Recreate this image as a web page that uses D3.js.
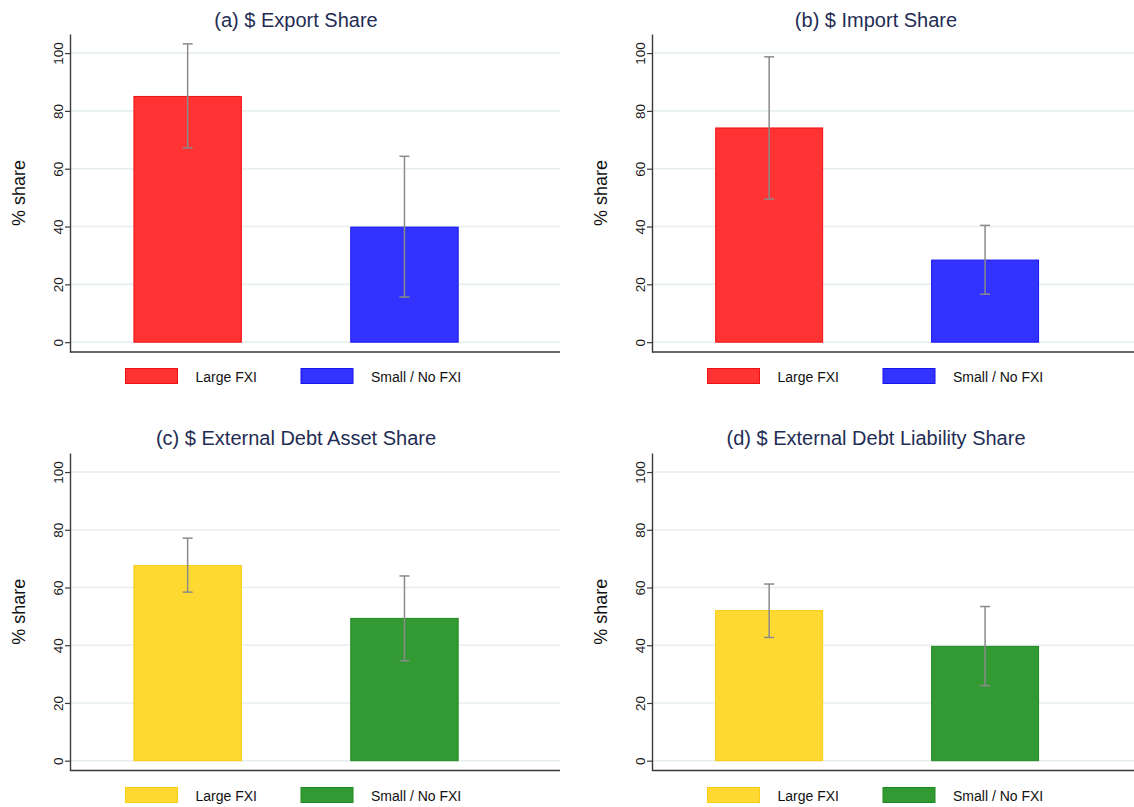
<!DOCTYPE html>
<html>
<head>
<meta charset="utf-8">
<script src="https://cdn.jsdelivr.net/npm/d3@7"></script>
<style>
  html, body { margin: 0; padding: 0; background: #ffffff; overflow: hidden; }
  svg { display: block; font-family: "Liberation Sans", Arial, Helvetica, sans-serif; }
</style>
</head>
<body>
<svg id="chart" width="1134" height="807"></svg>
<script>
// ---- data ----
const groups = ["Large FXI", "Small / No FXI"];
const panelTitles = [
  "(a) $ Export Share",
  "(b) $ Import Share",
  "(c) $ External Debt Asset Share",
  "(d) $ External Debt Liability Share"
];
const exportShare    = [85.0, 39.8];
const exportLow      = [67.2, 15.6];
const exportHigh     = [103.2, 64.3];
const importShare    = [74.1, 28.4];
const importLow      = [49.5, 16.6];
const importHigh     = [98.7, 40.4];
const debtAssetShare = [67.6, 49.3];
const debtAssetLow   = [58.4, 34.6];
const debtAssetHigh  = [77.1, 64.0];
const debtLiabShare  = [52.0, 39.6];
const debtLiabLow    = [42.7, 26.0];
const debtLiabHigh   = [61.2, 53.4];
const yTicks = [0, 20, 40, 60, 80, 100];
const yLabel = "% share";

// ---- styling ----
const tradeColors = { fill: ["#ff3333", "#3333ff"], edge: ["#ee1111", "#1515ee"] };
const debtColors  = { fill: ["#fed932", "#339933"], edge: ["#f8cc10", "#1f8a1f"] };

// panel layout: plot box per column/row
const cols = [
  { x0: 70,  x1: 560,  titleX: 296 },
  { x0: 652, x1: 1140, titleX: 876 }
];
const rows = [
  { top: 34,  bottom: 352,   titleY: 27,  legendY: 368.5 },
  { top: 453, bottom: 770.5, titleY: 445, legendY: 787.5 }
];

const panels = [
  { title: panelTitles[0], values: exportShare,    low: exportLow,    high: exportHigh,    col: 0, row: 0, colors: tradeColors },
  { title: panelTitles[1], values: importShare,    low: importLow,    high: importHigh,    col: 1, row: 0, colors: tradeColors },
  { title: panelTitles[2], values: debtAssetShare, low: debtAssetLow, high: debtAssetHigh, col: 0, row: 1, colors: debtColors },
  { title: panelTitles[3], values: debtLiabShare,  low: debtLiabLow,  high: debtLiabHigh,  col: 1, row: 1, colors: debtColors }
];

const svg = d3.select("#chart");

panels.forEach(p => {
  const c = cols[p.col], r = rows[p.row];
  const g = svg.append("g");

  const y = d3.scaleLinear().domain([-3.4, 106.6]).range([r.bottom, r.top]);
  const x = d3.scaleBand().domain(groups).range([c.x0, c.x1])
    .paddingInner(0.5).paddingOuter(0.38).align(0.385);

  // gridlines
  g.append("g").selectAll("line").data(yTicks).join("line")
    .attr("x1", c.x0).attr("x2", c.x1)
    .attr("y1", d => y(d)).attr("y2", d => y(d))
    .attr("stroke", "#e7eef0").attr("stroke-width", 1.6);

  // bars
  g.append("g").selectAll("rect").data(groups).join("rect")
    .attr("x", d => x(d) + 0.5)
    .attr("width", x.bandwidth() - 1)
    .attr("y", (d, i) => y(p.values[i]))
    .attr("height", (d, i) => y(0) - y(p.values[i]))
    .attr("fill", (d, i) => p.colors.fill[i])
    .attr("stroke", (d, i) => p.colors.edge[i])
    .attr("stroke-width", 1);

  // confidence intervals
  const eb = g.append("g").attr("stroke", "#8a8a8a").attr("stroke-width", 1.5).attr("fill", "none");
  groups.forEach((d, i) => {
    const cx = x(d) + x.bandwidth() / 2;
    eb.append("line").attr("x1", cx).attr("x2", cx)
      .attr("y1", y(p.low[i])).attr("y2", y(p.high[i]));
    [p.low[i], p.high[i]].forEach(v => {
      eb.append("line").attr("x1", cx - 5).attr("x2", cx + 5)
        .attr("y1", y(v)).attr("y2", y(v));
    });
  });

  // y axis
  const ax = g.append("g").attr("transform", `translate(${c.x0},0)`)
    .call(d3.axisLeft(y).tickValues(yTicks).tickSize(5).tickSizeOuter(0));
  ax.select(".domain").attr("stroke", "#3a3a3a").attr("stroke-width", 1.4);
  ax.selectAll(".tick line").attr("stroke", "#3a3a3a").attr("stroke-width", 1.2);
  ax.selectAll(".tick text")
    .attr("transform", "rotate(-90)")
    .attr("x", 0).attr("y", -7).attr("dy", 0)
    .attr("text-anchor", "middle")
    .attr("fill", "#1a1a1a")
    .style("font-size", "13.5px")
    .style("font-family", "'Liberation Sans', Arial, Helvetica, sans-serif");

  // x axis baseline
  g.append("line")
    .attr("x1", c.x0).attr("x2", c.x1)
    .attr("y1", r.bottom).attr("y2", r.bottom)
    .attr("stroke", "#3a3a3a").attr("stroke-width", 1.4);

  // y axis title
  const ly = (r.top + r.bottom) / 2;
  g.append("text")
    .attr("transform", `translate(${c.x0 - 45},${ly}) rotate(-90)`)
    .attr("text-anchor", "middle")
    .attr("fill", "#111")
    .style("font-size", "18px")
    .text(yLabel);

  // panel title
  g.append("text")
    .attr("x", c.titleX).attr("y", r.titleY)
    .attr("text-anchor", "middle")
    .attr("fill", "#1f2d55")
    .style("font-size", "20px")
    .text(p.title);

  // legend
  const legendX = [c.x0 + 55.5, c.x0 + 231];
  const lg = g.append("g");
  groups.forEach((d, i) => {
    lg.append("rect")
      .attr("x", legendX[i]).attr("y", r.legendY)
      .attr("width", 52).attr("height", 15)
      .attr("fill", p.colors.fill[i])
      .attr("stroke", p.colors.edge[i]).attr("stroke-width", 1);
    lg.append("text")
      .attr("x", legendX[i] + 70).attr("y", r.legendY + 13.5)
      .attr("fill", "#111")
      .style("font-size", "14px")
      .text(d);
  });
});
</script>
</body>
</html>
